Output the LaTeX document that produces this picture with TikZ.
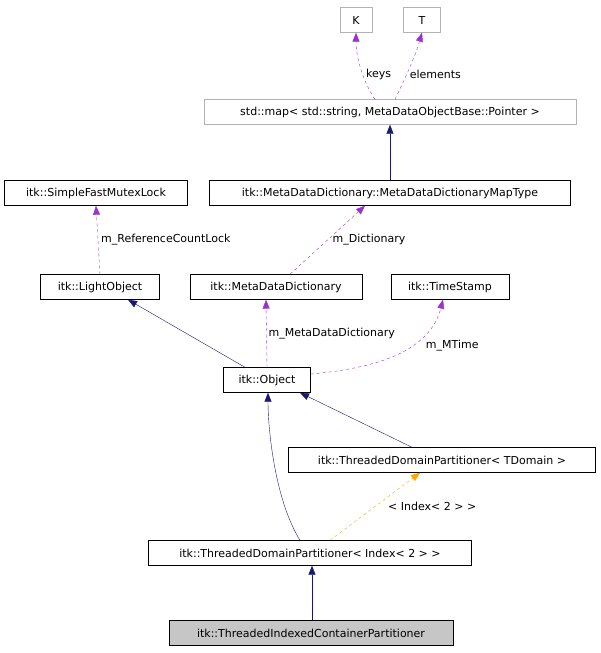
\documentclass[tikz,border=0pt]{standalone}
\usepackage{fontspec}
\setmainfont{DejaVu Sans}
\usetikzlibrary{arrows.meta}
\definecolor{navy}{RGB}{25,25,112}
\definecolor{usage}{RGB}{154,50,205}
\definecolor{tmpl}{RGB}{255,165,0}
\tikzset{
  /tikz/.cd,
  cls/.style={draw=black,fill=white,font=\fontsize{11}{12}\selectfont,inner sep=0pt,minimum height=25pt},
  ext/.style={cls,draw=gray!60},
  inherit/.style={navy,-{Triangle[length=9pt,width=7pt]}},
  uses/.style={usage,dashed,-{Triangle[length=9pt,width=7pt]}},
  inst/.style={tmpl,dashed,-{Triangle[length=9pt,width=7pt]}},
  lbl/.style={text=black,font=\fontsize{11}{12}\selectfont,fill=white,inner sep=1pt}
}
\begin{document}
\begin{tikzpicture}[x=1pt,y=-1pt]
  \useasboundingbox (0,0) rectangle (601,653);
  % classes
  \node[ext,minimum width=32pt] (k) at (356,20) {K};
  \node[ext,minimum width=37pt] (t) at (422,20) {T};
  \node[ext,minimum width=372pt] (map) at (390,112) {std::map< std::string, MetaDataObjectBase::Pointer >};
  \node[cls,minimum width=361pt] (maptype) at (390,193) {itk::MetaDataDictionary::MetaDataDictionaryMapType};
  \node[cls,minimum width=183pt] (mutex) at (96,193) {itk::SimpleFastMutexLock};
  \node[cls,minimum width=119pt] (light) at (100,287) {itk::LightObject};
  \node[cls,minimum width=172pt] (mdd) at (276,287) {itk::MetaDataDictionary};
  \node[cls,minimum width=118pt] (stamp) at (450,287) {itk::TimeStamp};
  \node[cls,minimum width=87pt] (object) at (267,380) {itk::Object};
  \node[cls,minimum width=307pt] (tdomain) at (442,460) {itk::ThreadedDomainPartitioner< TDomain >};
  \node[cls,minimum width=323pt] (tindex) at (310,553) {itk::ThreadedDomainPartitioner< Index< 2 > >};
  \node[cls,fill=gray!45,minimum width=284pt] (tic) at (311,633) {itk::ThreadedIndexedContainerPartitioner};
  % connectors
  \draw[uses] ([xshift=-15pt]map.north) .. controls (365,85) and (356,60) .. (k.south) node[lbl,pos=0.45,right=2pt] {keys};
  \draw[uses] ([xshift=5pt]map.north) .. controls (402,85) and (414,60) .. (t.south) node[lbl,pos=0.45,right=2pt] {elements};
  \draw[inherit] (maptype.north) -- (map.south);
  \draw[uses] ([xshift=14pt]mdd.north) -- ([xshift=-25pt]maptype.south) node[lbl,midway,right=4pt] {m\_Dictionary};
  \draw[uses] (light.north) -- (mutex.south) node[lbl,midway,right=2pt] {m\_ReferenceCountLock};
  \draw[inherit] ([xshift=-22pt]object.north) -- ([xshift=28pt]light.south);
  \draw[uses] (object.north) -- ([xshift=-10pt]mdd.south) node[lbl,midway,right=1pt] {m\_MetaDataDictionary};
  \draw[uses] ([yshift=6pt]object.east) .. controls (380,368) and (430,350) .. ([xshift=-7pt]stamp.south) node[lbl,pos=0.6,right=14pt] {m\_MTime};
  \draw[inherit] ([xshift=-30pt]tdomain.north) -- ([xshift=33pt]object.south);
  \draw[inherit] ([xshift=-10pt]tindex.north) .. controls (275,500) and (268,430) .. ([xshift=1pt]object.south);
  \draw[inst] ([xshift=20pt]tindex.north) -- ([xshift=-22pt]tdomain.south) node[lbl,midway,right=12pt] {< Index< 2 > >};
  \draw[inherit] ([xshift=1pt]tic.north) -- ([xshift=2pt]tindex.south);
\end{tikzpicture}
\end{document}
